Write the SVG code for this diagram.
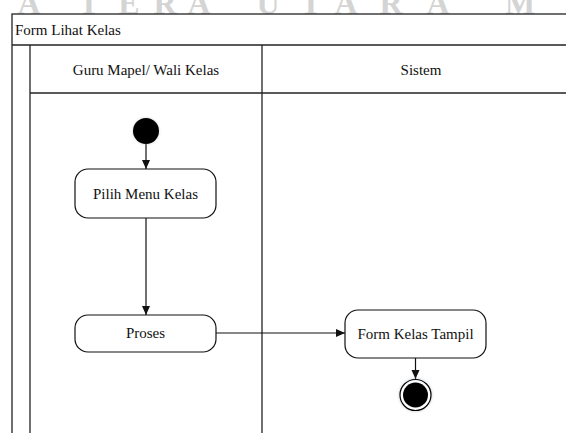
<svg xmlns="http://www.w3.org/2000/svg" width="566" height="433" viewBox="0 0 566 433">
<defs>
<style>
.wm{font-family:"Liberation Serif","Times New Roman",serif;font-weight:bold;font-size:32px;fill:#d4d4d4;text-anchor:middle}
.frame{stroke:#222;stroke-width:1.3;fill:none}
.lbl{font-family:"Liberation Serif","Times New Roman",serif;font-size:15px;fill:#111}
.c{text-anchor:middle}
.node{fill:#fff;stroke:#111;stroke-width:1.2}
.edge{stroke:#111;stroke-width:1.2;fill:none;marker-end:url(#arr)}
</style>
<marker id="arr" markerWidth="10" markerHeight="10" refX="9" refY="5" orient="auto" markerUnits="userSpaceOnUse">
<path d="M0,1 L9,5 L0,9 Z" fill="#111"/>
</marker>
<filter id="glow" x="-50%" y="-50%" width="200%" height="200%">
<feGaussianBlur stdDeviation="1.2"/>
</filter>
</defs>
<rect width="566" height="433" fill="#fff"/>
<text class="wm" x="29 89 129 165 199 268 311 346 391 438 520" y="14">ATERAUTARAM</text>
<g id="frame">
<rect x="12" y="14" width="600" height="440" fill="#fff" class="frame"/>
<line class="frame" x1="12" y1="45" x2="566" y2="45"/>
<line class="frame" x1="30" y1="45" x2="30" y2="433"/>
<line class="frame" x1="30" y1="93" x2="566" y2="93"/>
<line class="frame" x1="262" y1="45" x2="262" y2="433"/>
<text class="lbl" x="15" y="35">Form Lihat Kelas</text>
<text class="lbl c" x="146" y="75">Guru Mapel/ Wali Kelas</text>
<text class="lbl c" x="421" y="75">Sistem</text>
</g>
<g id="edges">
<line class="edge" x1="146" y1="144" x2="146" y2="169"/>
<line class="edge" x1="146" y1="218" x2="146" y2="315"/>
<line class="edge" x1="216" y1="333" x2="345" y2="333"/>
<line class="edge" x1="415.5" y1="358" x2="415.5" y2="379"/>
</g>
<g id="start">
<circle cx="146" cy="131" r="13.5" fill="#9ab" opacity="0.35" filter="url(#glow)"/>
<circle cx="146" cy="131" r="13" fill="#000"/>
</g>
<g id="pilih">
<rect class="node" x="75" y="169" width="141" height="49" rx="13"/>
<text class="lbl c" x="145.5" y="199">Pilih Menu Kelas</text>
</g>
<g id="proses">
<rect class="node" x="75" y="315" width="141" height="37" rx="13"/>
<text class="lbl c" x="145.5" y="338">Proses</text>
</g>
<g id="formkelas">
<rect class="node" x="345" y="310" width="141" height="48" rx="13"/>
<text class="lbl c" x="415.5" y="339">Form Kelas Tampil</text>
</g>
<g id="end">
<circle cx="415.5" cy="395" r="17" fill="#9ab" opacity="0.35" filter="url(#glow)"/>
<circle cx="415.5" cy="395" r="15.5" fill="#fff" stroke="#000" stroke-width="1.2"/>
<circle cx="415.5" cy="395" r="12.5" fill="#000"/>
</g>
</svg>
